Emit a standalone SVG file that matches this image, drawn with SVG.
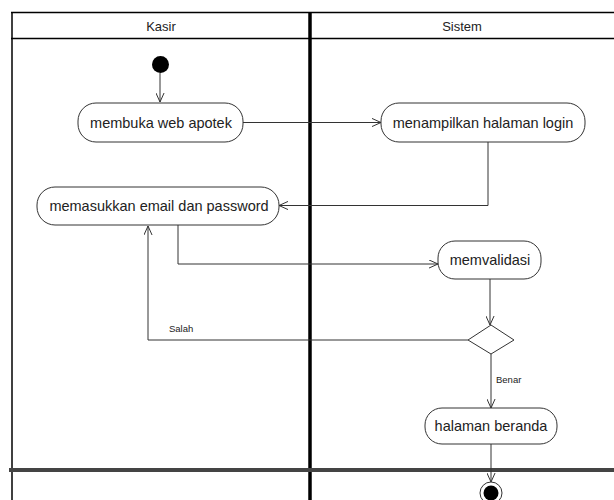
<svg xmlns="http://www.w3.org/2000/svg" width="614" height="500" viewBox="0 0 614 500">
  <style>
    .lane { stroke: #000; fill: none; }
    .act { fill: #fff; stroke: #333; stroke-width: 1; }
    .lbl { font-family: "Liberation Sans", Arial, sans-serif; font-size: 14.5px; fill: #222; text-anchor: middle; }
    .hdr { font-family: "Liberation Sans", Arial, sans-serif; font-size: 13px; fill: #222; text-anchor: middle; }
    .guard { font-family: "Liberation Sans", Arial, sans-serif; font-size: 9.5px; fill: #222; }
    .flow { fill: none; stroke: #333; stroke-width: 1; marker-end: url(#open); }
  </style>
  <defs>
    <marker id="open" viewBox="0 0 10 10" refX="10" refY="5" markerWidth="9" markerHeight="9" markerUnits="userSpaceOnUse" orient="auto">
      <path d="M0,0.5 L10,5 L0,9.5" fill="none" stroke="#333" stroke-width="1.1"/>
    </marker>
  </defs>
  <rect width="614" height="500" fill="#fff"/>

  <!-- swimlanes -->
  <g id="swimlanes">
    <line class="lane" x1="11" y1="12.5" x2="614" y2="12.5" stroke-width="1.5"/>
    <line class="lane" x1="11" y1="38.5" x2="614" y2="38.5" stroke-width="1.5"/>
    <line class="lane" x1="12" y1="12" x2="12" y2="500" stroke-width="1.5"/>
    <line class="lane" x1="310" y1="12" x2="310" y2="500" stroke-width="3.5"/>
    <line x1="9" y1="470" x2="614" y2="470" stroke="#444" stroke-width="4"/>
    <text class="hdr" x="161" y="31">Kasir</text>
    <text class="hdr" x="462" y="31">Sistem</text>
  </g>

  <!-- control flows -->
  <g id="connectors">
    <line class="flow" x1="160" y1="73" x2="160" y2="102"/>
    <line class="flow" x1="243" y1="122.5" x2="381" y2="122.5"/>
    <polyline class="flow" points="488,142 488,205.5 279,205.5"/>
    <polyline class="flow" points="178,225 178,264 438,264"/>
    <line class="flow" x1="490" y1="279" x2="490" y2="325"/>
    <polyline class="flow" points="468,340 148,340 148,226"/>
    <line class="flow" x1="491" y1="354" x2="491" y2="408"/>
    <line class="flow" x1="491" y1="444" x2="491" y2="482"/>
    <text class="guard" x="169" y="332">Salah</text>
    <text class="guard" x="496" y="383">Benar</text>
  </g>

  <g id="start">
    <circle cx="160.5" cy="64.5" r="8.5" fill="#000"/>
  </g>

  <g id="membuka-web-apotek">
    <rect class="act" x="78" y="103" width="165" height="39" rx="18"/>
    <text class="lbl" x="161" y="128">membuka web apotek</text>
  </g>

  <g id="menampilkan-halaman-login">
    <rect class="act" x="381" y="103" width="204" height="39" rx="18"/>
    <text class="lbl" x="483" y="128">menampilkan halaman login</text>
  </g>

  <g id="memasukkan-email-password">
    <rect class="act" x="37" y="187" width="242" height="38" rx="18"/>
    <text class="lbl" x="159" y="211">memasukkan email dan password</text>
  </g>

  <g id="memvalidasi">
    <rect class="act" x="438" y="241" width="103" height="38" rx="17"/>
    <text class="lbl" x="490" y="265">memvalidasi</text>
  </g>

  <g id="decision">
    <polygon points="491,325 514,340 491,354 468,340" fill="#fff" stroke="#333" stroke-width="1"/>
  </g>

  <g id="halaman-beranda">
    <rect class="act" x="425" y="408" width="132" height="36" rx="17"/>
    <text class="lbl" x="491" y="431">halaman beranda</text>
  </g>

  <g id="end">
    <circle cx="491" cy="493" r="11" fill="#fff" stroke="#333" stroke-width="1"/>
    <circle cx="491" cy="493" r="7.5" fill="#000"/>
  </g>
</svg>
